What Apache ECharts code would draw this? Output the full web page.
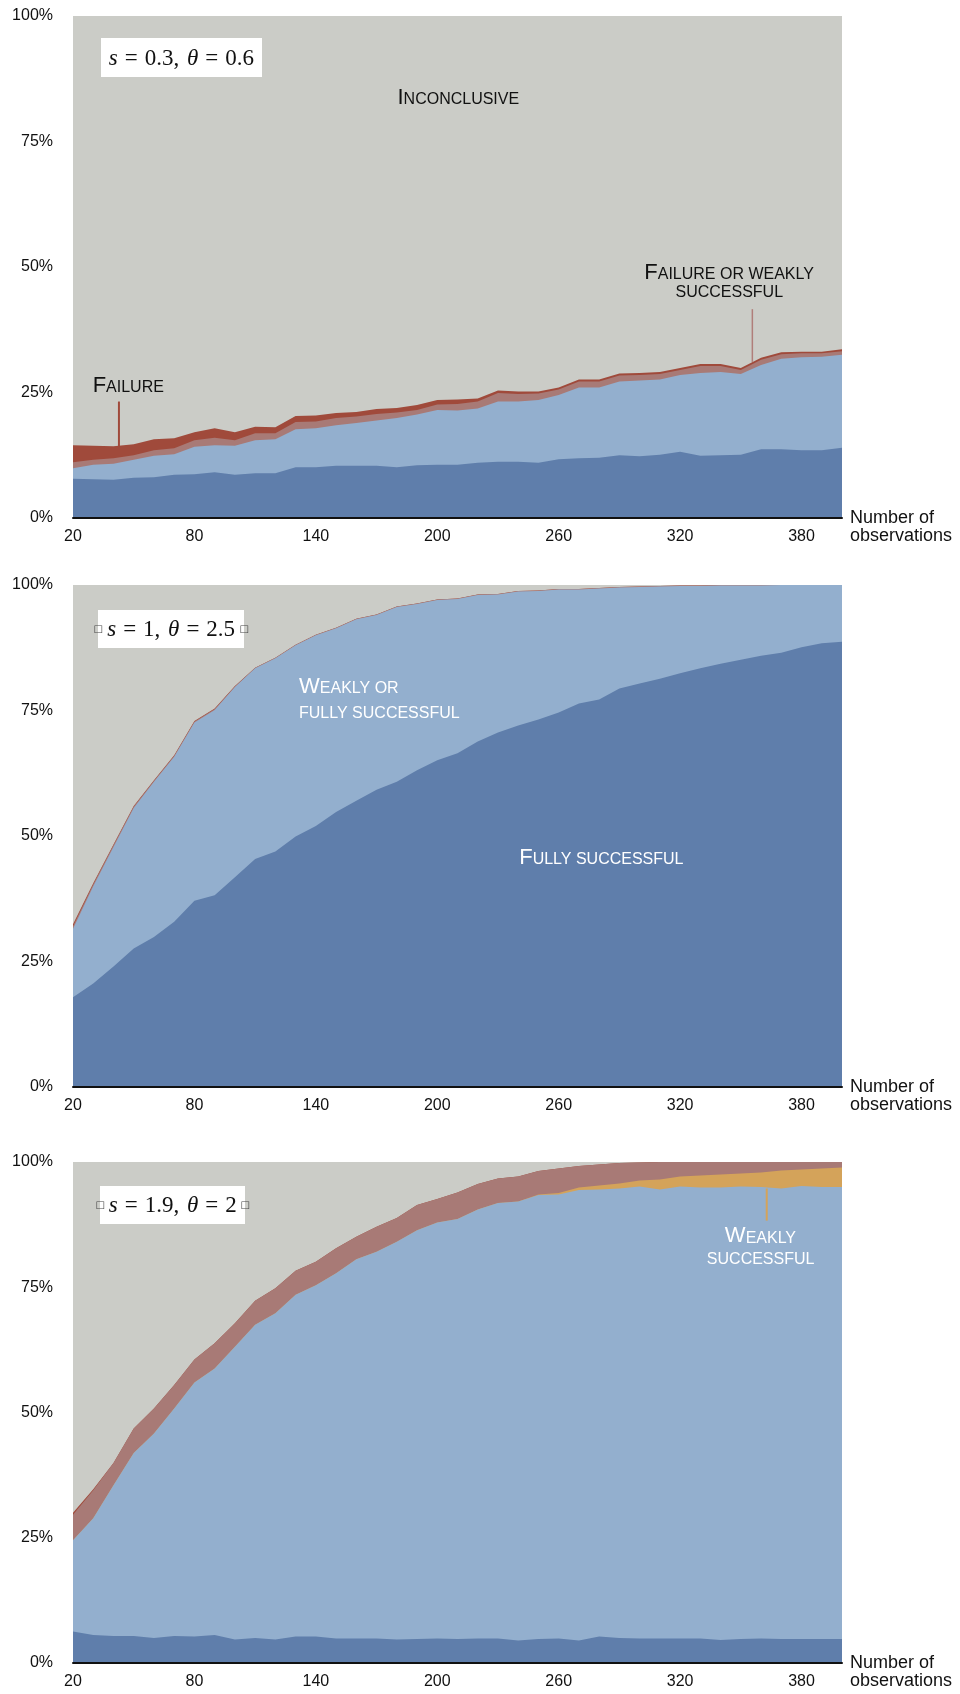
<!DOCTYPE html>
<html>
<head>
<meta charset="utf-8">
<title>Test outcomes by number of observations</title>
<script src="https://cdn.jsdelivr.net/npm/echarts@6.0.0/dist/echarts.min.js"></script>
<style>
  html, body { margin: 0; padding: 0; background: #ffffff; }
  #chart { width: 960px; height: 1694px; }
</style>
</head>
<body>
<div id="chart"></div>
<script>
// ---------------- data ----------------
const observations = [20,30,40,50,60,70,80,90,100,110,120,130,140,150,160,170,180,190,200,210,220,230,240,250,260,270,280,290,300,310,320,330,340,350,360,370,380,390,400];
const xTickValues = [20,80,140,200,260,320,380];
const yTickValues = [0,25,50,75,100];

// Upper edge (%) of each outcome band; bands are drawn from the top one down.
const inconclusiveTop = [100,100,100,100,100,100,100,100,100,100,100,100,100,100,100,100,100,100,100,100,100,100,100,100,100,100,100,100,100,100,100,100,100,100,100,100,100,100,100];

// Panel 1: s = 0.3, theta = 0.6
const p1FailureTop      = [14.5,14.4,14.3,14.7,15.7,15.9,17.1,17.9,17.1,18.2,18.1,20.3,20.4,20.9,21.1,21.7,21.9,22.5,23.5,23.6,23.8,25.4,25.2,25.2,26.0,27.6,27.6,28.8,28.9,29.1,29.9,30.7,30.7,29.9,31.9,33.0,33.1,33.1,33.6];
const p1FailOrWeakTop   = [11.1,11.6,11.9,12.5,13.5,13.9,15.5,16.0,15.5,16.9,16.9,19.1,19.2,19.9,20.2,20.7,21.0,21.5,22.6,22.7,23.2,24.9,24.7,24.8,25.6,27.2,27.2,28.4,28.5,28.7,29.5,30.3,30.3,29.5,31.5,32.6,32.8,32.8,33.2];
const p1WeakOrFullyTop  = [9.9,10.6,10.8,11.6,12.4,12.7,14.2,14.5,14.4,15.5,15.7,17.7,17.9,18.5,18.9,19.4,19.9,20.6,21.5,21.4,21.8,23.2,23.2,23.5,24.5,26.0,26.0,27.2,27.4,27.6,28.5,28.9,29.1,28.7,30.5,31.7,32.0,32.1,32.5];
const p1FullyTop        = [7.8,7.7,7.6,8.0,8.1,8.6,8.7,9.1,8.6,8.9,8.9,10.1,10.1,10.4,10.4,10.4,10.1,10.5,10.6,10.6,11.0,11.2,11.2,11.0,11.7,11.9,12.0,12.5,12.3,12.6,13.2,12.4,12.5,12.6,13.7,13.7,13.5,13.5,14.0];

// Panel 2: s = 1, theta = 2.5
const p2FailureTop      = [32.4,40.6,48.3,56.0,61.1,66.1,72.9,75.4,79.9,83.5,85.5,88.1,90.1,91.5,93.3,94.1,95.7,96.3,97.1,97.3,98.1,98.2,98.8,98.9,99.2,99.2,99.4,99.6,99.7,99.8,99.9,99.9,100,100,100,100,100,100,100];
const p2FailOrWeakTop   = [32.0,40.4,48.2,55.9,61.0,66.0,72.8,75.3,79.8,83.5,85.5,88.1,90.1,91.5,93.3,94.1,95.7,96.3,97.1,97.3,98.1,98.2,98.8,98.9,99.2,99.2,99.4,99.6,99.7,99.8,99.9,99.9,100,100,100,100,100,100,100];
const p2WeakOrFullyTop  = [31.5,40.0,47.8,55.6,60.8,65.8,72.6,75.1,79.7,83.4,85.4,88.0,90.0,91.4,93.2,94.0,95.6,96.2,97.0,97.2,98.0,98.1,98.7,98.8,99.1,99.1,99.3,99.5,99.6,99.7,99.8,99.8,99.9,99.9,99.9,100,100,100,100];
const p2FullyTop        = [17.9,20.6,24.0,27.6,29.9,32.9,37.1,38.2,41.8,45.4,46.9,49.9,52.0,54.8,57.0,59.2,60.8,63.1,65.1,66.5,68.8,70.6,72.0,73.2,74.6,76.4,77.2,79.4,80.4,81.3,82.4,83.4,84.3,85.1,85.9,86.5,87.6,88.4,88.7];

// Panel 3: s = 1.9, theta = 2
const p3FailureTop      = [30.0,34.7,39.9,46.8,50.8,55.5,60.6,63.8,67.8,72.3,74.8,78.3,80.1,82.8,85.1,87.1,88.8,91.4,92.6,93.9,95.6,96.7,97.1,98.2,98.7,99.2,99.5,99.8,99.9,100,100,100,100,100,100,100,100,100,100];
const p3FailOrWeakTop   = [29.6,34.5,39.9,46.8,50.8,55.5,60.6,63.8,67.8,72.3,74.8,78.3,80.1,82.8,85.1,87.1,88.8,91.4,92.6,93.9,95.6,96.7,97.1,98.2,98.7,99.2,99.5,99.8,99.9,100,100,100,100,100,100,100,100,100,100];
const p3WeaklyTop       = [24.5,28.9,35.5,41.9,45.8,50.8,56.0,58.8,63.1,67.5,69.8,73.5,75.4,77.8,80.6,82.1,84.1,86.4,87.9,88.6,90.5,91.8,92.1,93.5,93.8,94.9,95.3,95.7,96.3,96.5,97.1,97.3,97.5,97.7,97.9,98.3,98.5,98.7,98.9];
const p3WeakOrFullyTop  = [24.5,28.9,35.5,41.9,45.8,50.8,56.0,58.8,63.1,67.5,69.8,73.5,75.4,77.8,80.6,82.1,84.1,86.4,87.9,88.6,90.5,91.8,92.1,93.4,93.5,94.4,94.5,94.7,95.1,94.5,95.1,94.9,94.9,95.1,95.0,94.7,95.2,95.0,95.0];
const p3FullyTop        = [6.3,5.6,5.4,5.4,5.0,5.4,5.3,5.6,4.7,5.0,4.7,5.3,5.3,4.9,4.9,4.9,4.7,4.8,4.9,4.8,4.9,4.9,4.5,4.8,4.9,4.5,5.3,5.0,4.9,4.9,4.9,4.9,4.6,4.8,4.9,4.8,4.8,4.8,4.8];

const panelParams = [
  { s: '0.3', theta: '0.6' },
  { s: '1',   theta: '2.5' },
  { s: '1.9', theta: '2' }
];

// ---------------- styles ----------------
const COLORS = {
  inconclusive: '#cbccc7',
  failure: '#a04a3b',
  failOrWeak: '#a87a76',
  weakly: '#d4a35a',
  weakOrFully: '#93afce',
  fully: '#5f7eab'
};
const SANS = "'Liberation Sans', Arial, Helvetica, sans-serif";
const SERIF = "'Liberation Serif', 'Times New Roman', serif";

const chart = echarts.init(document.getElementById('chart'), null, { renderer: 'canvas' });

const grids = [
  { left: 73, top: 16,   width: 769, height: 502 },
  { left: 73, top: 585,  width: 769, height: 502 },
  { left: 73, top: 1162, width: 769, height: 501 }
];

function xAxisFor(i) {
  return {
    type: 'value', gridIndex: i, min: 20, max: 400, interval: 60, z: 10,
    name: '\nNumber of\nobservations', nameLocation: 'end', nameGap: 8,
    nameTextStyle: { fontFamily: SANS, fontSize: 18, color: '#111', lineHeight: 18, align: 'left', verticalAlign: 'middle' },
    axisLine: { show: true, onZero: true, lineStyle: { color: '#111', width: 2 } },
    axisTick: { show: false },
    splitLine: { show: false },
    axisLabel: { customValues: xTickValues, fontFamily: SANS, fontSize: 16, color: '#111', margin: 11 }
  };
}
function yAxisFor(i) {
  return {
    type: 'value', gridIndex: i, min: 0, max: 100, interval: 25,
    axisLine: { show: false }, axisTick: { show: false }, splitLine: { show: false },
    axisLabel: { customValues: yTickValues, formatter: '{value}%', fontFamily: SANS, fontSize: 16, color: '#111', margin: 20 }
  };
}
function area(g, name, color, values) {
  return {
    type: 'line', name, xAxisIndex: g, yAxisIndex: g,
    data: observations.map((o, k) => [o, values[k]]),
    symbol: 'none', showSymbol: false,
    lineStyle: { width: 0, opacity: 0 },
    areaStyle: { color, opacity: 1 },
    silent: true, z: 2
  };
}

const series = [
  area(0, 'Inconclusive', COLORS.inconclusive, inconclusiveTop),
  area(0, 'Failure', COLORS.failure, p1FailureTop),
  area(0, 'Failure or weakly successful', COLORS.failOrWeak, p1FailOrWeakTop),
  area(0, 'Weakly or fully successful', COLORS.weakOrFully, p1WeakOrFullyTop),
  area(0, 'Fully successful', COLORS.fully, p1FullyTop),

  area(1, 'Inconclusive', COLORS.inconclusive, inconclusiveTop),
  area(1, 'Failure', COLORS.failure, p2FailureTop),
  area(1, 'Failure or weakly successful', COLORS.failOrWeak, p2FailOrWeakTop),
  area(1, 'Weakly or fully successful', COLORS.weakOrFully, p2WeakOrFullyTop),
  area(1, 'Fully successful', COLORS.fully, p2FullyTop),

  area(2, 'Inconclusive', COLORS.inconclusive, inconclusiveTop),
  area(2, 'Failure', COLORS.failure, p3FailureTop),
  area(2, 'Failure or weakly successful', COLORS.failOrWeak, p3FailOrWeakTop),
  area(2, 'Weakly successful', COLORS.weakly, p3WeaklyTop),
  area(2, 'Weakly or fully successful', COLORS.weakOrFully, p3WeakOrFullyTop),
  area(2, 'Fully successful', COLORS.fully, p3FullyTop)
];

chart.setOption({
  animation: false,
  backgroundColor: '#ffffff',
  grid: grids,
  xAxis: [0, 1, 2].map(xAxisFor),
  yAxis: [0, 1, 2].map(yAxisFor),
  series
});

// ---------------- annotations (anchored in data units) ----------------
// text lines: y is the text baseline (in %)
const textLines = [
  { g: 0, x: 210.4, y: 82.1, align: 'center', color: '#111', parts: [['b', 'I'], ['s', 'NCONCLUSIVE']] },
  { g: 0, x: 47.3,  y: 24.7, align: 'center', color: '#111', parts: [['b', 'F'], ['s', 'AILURE']] },
  { g: 0, x: 344.2, y: 47.2, align: 'center', color: '#111', parts: [['b', 'F'], ['s', 'AILURE OR WEAKLY']] },
  { g: 0, x: 344.3, y: 43.8, align: 'center', color: '#111', parts: [['s', 'SUCCESSFUL']] },
  { g: 1, x: 131.7, y: 78.1, align: 'left',   color: '#fff', parts: [['b', 'W'], ['s', 'EAKLY OR']] },
  { g: 1, x: 131.7, y: 73.1, align: 'left',   color: '#fff', parts: [['s', 'FULLY SUCCESSFUL']] },
  { g: 1, x: 240.5, y: 44.1, align: 'left',   color: '#fff', parts: [['b', 'F'], ['s', 'ULLY SUCCESSFUL']] },
  { g: 2, x: 359.7, y: 83.6, align: 'center', color: '#fff', parts: [['b', 'W'], ['s', 'EAKLY']] },
  { g: 2, x: 359.8, y: 79.3, align: 'center', color: '#fff', parts: [['s', 'SUCCESSFUL']] }
];
const leaders = [
  { g: 0, x: 42.7,  y1: 23.2, y2: 14.3, color: COLORS.failure, w: 2 },
  { g: 0, x: 355.7, y1: 41.6, y2: 31.1, color: '#b07e7a', w: 1.5 },
  { g: 2, x: 362.8, y1: 94.7, y2: 88.3, color: COLORS.weakly, w: 2 }
];
const paramBoxes = [
  { g: 0, x: 73.6, y: 91.7, w: 161, h: 39, tofu: false },
  { g: 1, x: 68.5, y: 91.3, w: 146, h: 38, tofu: true },
  { g: 2, x: 69.3, y: 91.5, w: 145, h: 38, tofu: true }
];

function px(g, x, y) { return chart.convertToPixel({ gridIndex: g }, [x, y]); }

const capsRich = {
  b: { fontFamily: SANS, fontSize: 22, verticalAlign: 'bottom' },
  s: { fontFamily: SANS, fontSize: 16, verticalAlign: 'bottom', padding: [0, 0, 1, 0] }
};

const graphics = [];
textLines.forEach(t => {
  const p = px(t.g, t.x, t.y);
  const rich = {};
  Object.keys(capsRich).forEach(k => { rich[k] = Object.assign({}, capsRich[k], { fill: t.color }); });
  graphics.push({
    type: 'text', x: p[0], y: p[1] + 3, z: 100, silent: true,
    style: {
      text: t.parts.map(pp => '{' + pp[0] + '|' + pp[1] + '}').join(''),
      rich, fill: t.color, align: t.align, verticalAlign: 'bottom'
    }
  });
});
leaders.forEach(l => {
  const a = px(l.g, l.x, l.y1), b = px(l.g, l.x, l.y2);
  graphics.push({
    type: 'line', z: 100, silent: true,
    shape: { x1: a[0], y1: a[1], x2: b[0], y2: b[1] },
    style: { stroke: l.color, lineWidth: l.w }
  });
});
paramBoxes.forEach((bx, i) => {
  const c = px(bx.g, bx.x, bx.y);
  graphics.push({
    type: 'rect', z: 100, silent: true,
    shape: { x: Math.round(c[0] - bx.w / 2), y: Math.round(c[1] - bx.h / 2), width: bx.w, height: bx.h },
    style: { fill: '#ffffff' }
  });
  const pr = panelParams[i];
  graphics.push({
    type: 'text', x: c[0], y: c[1] + 1, z: 101, silent: true,
    style: {
      text: '{it|s}{eq|=}{rm|' + pr.s + ',}{gap| }{it|θ}{eq|=}{rm|' + pr.theta + '}',
      align: 'center', verticalAlign: 'middle', fill: '#111',
      rich: {
        it: { fontFamily: SERIF, fontStyle: 'italic', fontSize: 23, fill: '#111' },
        rm: { fontFamily: SERIF, fontSize: 23, fill: '#111' },
        eq: { fontFamily: SERIF, fontSize: 23, fill: '#111', padding: [0, 7, 0, 7] },
        gap: { fontFamily: SERIF, fontSize: 23, fill: '#111', padding: [0, 2, 0, 0] }
      }
    }
  });
  if (bx.tofu) {
    [-1, 1].forEach(side => {
      graphics.push({
        type: 'text', x: c[0] + side * bx.w / 2, y: c[1] + 1, z: 102, silent: true,
        style: { text: '□', fontFamily: "'DejaVu Sans', sans-serif", fontSize: 10, fill: '#444', align: 'center', verticalAlign: 'middle' }
      });
    });
  }
});

chart.setOption({ graphic: graphics });
</script>
</body>
</html>
